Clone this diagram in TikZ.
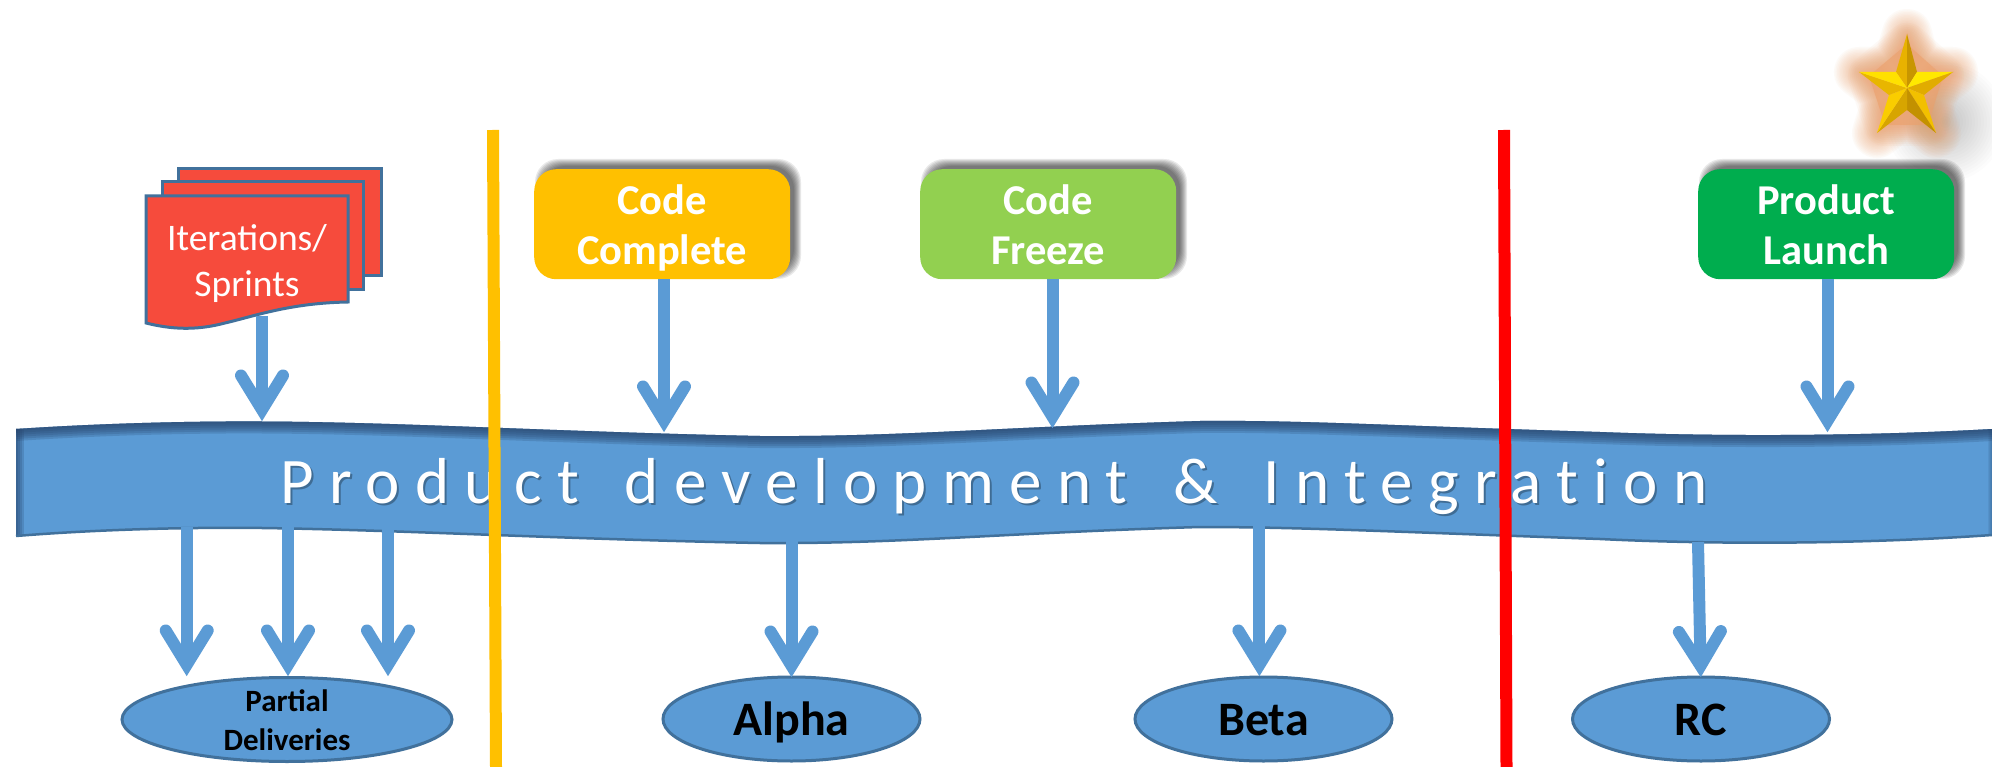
\documentclass[tikz,border=0pt]{standalone}
\usepackage{fontspec}
\setmainfont{Carlito}
\usetikzlibrary{arrows.meta,shapes.geometric}
\definecolor{bandblue}{HTML}{5B9BD5}
\definecolor{edgeblue}{HTML}{41719C}
\definecolor{sprintred}{HTML}{F64B3C}
\definecolor{codeorange}{HTML}{FFC000}
\definecolor{codegreen}{HTML}{92D050}
\definecolor{launchgreen}{HTML}{00AD4E}
\definecolor{glowpeach}{RGB}{235,160,107}
\definecolor{banddark}{RGB}{40,70,110}
\pgfdeclarearrow{
  name=OpenHead,
  setup code={
    \pgfarrowssettipend{0pt}
    \pgfarrowssetlineend{-22pt}
    \pgfarrowssetvisualbackend{-45pt}
    \pgfarrowssetbackend{-51pt}
    \pgfarrowshullpoint{0pt}{0pt}
  },
  drawing code={
    \pgfsetlinewidth{12pt}
    \pgfsetroundcap
    \pgfsetmiterjoin
    \pgfsetmiterlimit{10}
    \pgfpathmoveto{\pgfqpoint{-45.5pt}{21pt}}
    \pgfpathlineto{\pgfqpoint{-11.3pt}{0pt}}
    \pgfpathlineto{\pgfqpoint{-45.5pt}{-21pt}}
    \pgfusepathqstroke
  }
}
\tikzset{
  x=1pt,y=-1pt,
  flow/.style={draw=bandblue,line width=12pt,-{OpenHead}},
  divider/.style={line width=12pt},
  sheet/.style={fill=sprintred,draw=edgeblue,line width=3pt,line join=miter},
  milestone/.style={rounded corners=22pt,minimum width=256pt,minimum height=110pt,inner sep=0pt,
    text=white,align=center,font=\fontsize{42.5}{50}\selectfont\bfseries},
  release/.style={ellipse,fill=bandblue,draw=edgeblue,line width=3pt,inner sep=0pt,
    minimum width=257pt,minimum height=84pt},
  releasetext/.style={inner sep=0pt,text=black,text height=33pt,text depth=0pt,
    font=\fontsize{48}{52}\selectfont\bfseries},
  bandtext/.style={inner sep=0pt,font=\fontsize{65}{70}\selectfont},
}
\newcommand{\softshadow}[4]{%
  \foreach \g in {5,4,3,2,1,0,-1,-2}{
    \fill[black,opacity=0.085,rounded corners=23pt]
      (#1+6-\g,#2-5-\g) rectangle (#3+6+\g,#4-5+\g);
  }
}
\newcommand{\twolines}[2]{\rule{0pt}{41.4pt}#1\\#2\rule[-10pt]{0pt}{10pt}}
\newcommand{\bandtop}{(16,429) .. controls (90,424) and (180,421) .. (262,421.5)
   .. controls (400,422) and (560,432) .. (760,436)
   .. controls (900,437) and (1000,427) .. (1200,421)
   .. controls (1300,420) and (1400,426) .. (1600,432)
   .. controls (1700,436) and (1850,437) .. (1992,429)}
\newcommand{\bandclose}{(1992,535) .. controls (1850,545) and (1700,544) .. (1600,539)
   .. controls (1400,532) and (1300,527) .. (1200,527)
   .. controls (1000,533) and (900,544) .. (760,543)
   .. controls (560,539) and (400,530) .. (262,528)
   .. controls (180,527) and (90,530) .. (16,536)}
\newcommand{\starpath}{(1907,34) -- (1917,72) -- (1953,72) -- (1924,95) -- (1936,133) -- (1907,110) -- (1877,133) -- (1889,95) -- (1859,72) -- (1896,72) -- cycle}
\newcommand{\starhull}{(1907,44) -- (1943,76) -- (1928,125) -- (1885,125) -- (1869,76) -- cycle}
\newcommand{\bandwords}{\addfontfeature{LetterSpace=23.5,RawFeature=-liga}Product\hspace{16pt} development\hspace{16pt} \&\hspace{16pt} Integration}
\begin{document}
\begin{tikzpicture}
\useasboundingbox (0,0) rectangle (1992,767);
\fill[white] (0,0) rectangle (1992,767);

% star shadow and glow
\foreach \r in {60,57,...,3}{
  \fill[black,opacity=0.013] (1945,122) circle (\r);
}
\foreach \w in {50,47,...,2}{
  \draw[glowpeach,opacity=0.05,line width=\w pt,line join=round] \starpath;
}
\foreach \w in {42,38,...,2}{
  \draw[glowpeach,opacity=0.055,line width=\w pt,line join=round] \starhull;
}
\fill[glowpeach,opacity=0.6] \starhull;

% star facets
\coordinate (sc) at (1907,88);
\fill[color={rgb,255:red,232;green,178;blue,0}] (sc) -- (1907,34) -- (1896,72) -- cycle;
\fill[color={rgb,255:red,200;green,150;blue,0}] (sc) -- (1907,34) -- (1917,72) -- cycle;
\fill[color={rgb,255:red,255;green,232;blue,0}] (sc) -- (1953,72) -- (1917,72) -- cycle;
\fill[color={rgb,255:red,225;green,172;blue,0}] (sc) -- (1953,72) -- (1924,95) -- cycle;
\fill[color={rgb,255:red,242;green,192;blue,0}] (sc) -- (1936,133) -- (1924,95) -- cycle;
\fill[color={rgb,255:red,195;green,145;blue,0}] (sc) -- (1936,133) -- (1907,110) -- cycle;
\fill[color={rgb,255:red,215;green,165;blue,0}] (sc) -- (1877,133) -- (1907,110) -- cycle;
\fill[color={rgb,255:red,250;green,205;blue,0}] (sc) -- (1877,133) -- (1889,95) -- cycle;
\fill[color={rgb,255:red,232;green,182;blue,0}] (sc) -- (1859,72) -- (1889,95) -- cycle;
\fill[color={rgb,255:red,255;green,225;blue,0}] (sc) -- (1859,72) -- (1896,72) -- cycle;

% sprint sheets
\path[sheet] (178,169) rectangle (381,276);
\path[sheet] (162,182) rectangle (363,290);
\path[sheet] (146,196) -- (348,196) -- (348,302) .. controls (290,303) and (255,316) .. (225,323)
   .. controls (195,331) and (170,329) .. (146,323) -- cycle;
\node[inner sep=0pt,text=white,align=center,font=\fontsize{37.5}{46}\selectfont] (sprints) at (247,262.5)
  {\rule{0pt}{30pt}Iterations/\\Sprints\rule[-8pt]{0pt}{8pt}};
\coordinate (sprintfoot) at (262,316);

% milestone boxes
\softshadow{534}{169}{790}{279}
\softshadow{920}{169}{1176}{279}
\softshadow{1698}{169}{1954}{279}
\node[milestone,fill=codeorange,anchor=north west] (complete) at (534,169) {\twolines{Code}{Complete}};
\node[milestone,fill=codegreen,anchor=north west] (freeze) at (920,169) {\twolines{Code}{Freeze}};
\node[milestone,fill=launchgreen,anchor=north west] (launch) at (1698,169) {\twolines{Product}{Launch}};

% band
\fill[bandblue] \bandtop -- \bandclose -- cycle;
\begin{scope}
\clip \bandtop -- \bandclose -- cycle;
\foreach \w in {24,20,16,12,8,4}{
  \draw[banddark,opacity=0.22,line width=\w pt] \bandtop;
}
\foreach \w in {16,12,8,4}{
  \draw[banddark,opacity=0.22,line width=\w pt] (16,420) -- (16,540);
  \draw[banddark,opacity=0.10,line width=\w/2 pt] (1992,420) -- (1992,540);
}
\end{scope}
\draw[edgeblue,line width=2.5pt] \bandclose;
\node[bandtext,anchor=base west,text=black,opacity=0.3] at (282,505) {\bandwords};
\node[bandtext,anchor=base west,text=white] (bandlabel) at (280,503) {\bandwords};

% band anchors for connectors
\coordinate (inA) at (262,421);
\coordinate (inB) at (664,432);
\coordinate (inC) at (1052.5,428);
\coordinate (inD) at (1827.5,432);
\coordinate (outA) at (186.7,527);
\coordinate (outB) at (288,527);
\coordinate (outC) at (388,528);
\coordinate (outD) at (791.5,541);
\coordinate (outE) at (1259.4,526);
\coordinate (outF) at (1698,542);

% release ellipses
\node[release,minimum width=330pt] (partial) at (287,719.5) {};
\node[inner sep=0pt,text=black,align=center,font=\fontsize{31}{39}\selectfont\bfseries] (partiallabel) at (partial.center)
  {\rule{0pt}{28pt}Partial\\Deliveries\rule[-6pt]{0pt}{6pt}};
\node[release] (alpha) at (791.5,719) {};
\node[releasetext] (alphalabel) at (alpha.center) {Alpha};
\node[release] (beta) at (1263.5,719) {};
\node[releasetext] (betalabel) at (beta.center) {Beta};
\node[release] (rc) at (1701,719) {};
\node[releasetext] (rclabel) at (rc.center) {RC};

\coordinate (tipA) at (186.7,676);
\coordinate (tipB) at (288,676);
\coordinate (tipC) at (388,676);
\coordinate (tipD) at (791.5,677);
\coordinate (tipE) at (1259.4,676);
\coordinate (tipF) at (1700.8,677);

% connectors
\draw[flow] (sprintfoot) -- (inA);
\draw[flow] (complete.south -| inB) -- (inB);
\draw[flow] (freeze.south -| inC) -- (inC);
\draw[flow] (launch.south -| inD) -- (inD);
\draw[flow] (outA) -- (tipA);
\draw[flow] (outB) -- (tipB);
\draw[flow] (outC) -- (tipC);
\draw[flow] (outD) -- (tipD);
\draw[flow] (outE) -- (tipE);
\draw[flow] (outF) -- (tipF);

% dividers
\coordinate (orangetop) at (493,130);
\coordinate (orangefoot) at (496,767);
\coordinate (redtop) at (1504,130);
\coordinate (redfoot) at (1506.5,767);
\draw[divider,codeorange] (orangetop) -- (orangefoot);
\draw[divider,red] (redtop) -- (redfoot);
\end{tikzpicture}
\end{document}
